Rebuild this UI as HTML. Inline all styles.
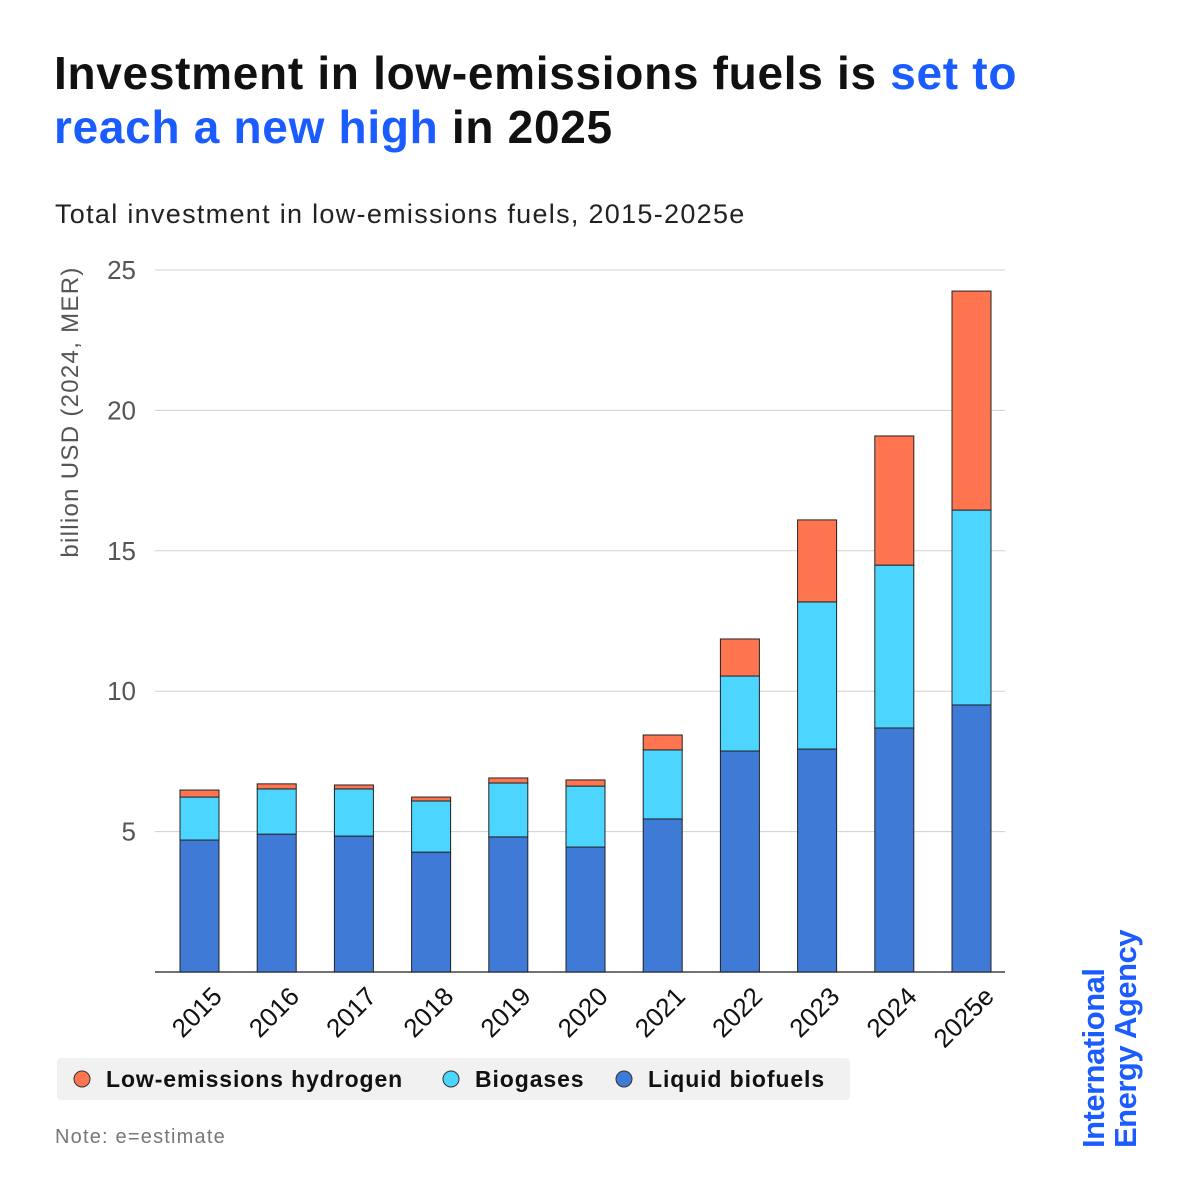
<!DOCTYPE html>
<html><head><meta charset="utf-8">
<style>
html,body{margin:0;padding:0;background:#fff;}
body{width:1200px;height:1200px;position:relative;overflow:hidden;font-family:"Liberation Sans",sans-serif;}
#title{position:absolute;left:54px;top:46px;font-size:46px;font-weight:bold;line-height:54px;color:#111;letter-spacing:0.7px;}
#title span{color:#1a5cff;}
#subtitle{position:absolute;left:55px;top:199px;font-size:27px;color:#222;letter-spacing:1.3px;}
#note{position:absolute;left:55px;top:1126px;font-size:20px;color:#777;letter-spacing:1.2px;}
#logo{position:absolute;left:1078px;top:1148px;transform:rotate(-90deg);transform-origin:0 0;font-size:31px;font-weight:bold;line-height:32px;color:#1a5cff;white-space:nowrap;letter-spacing:-0.5px;}
svg{position:absolute;left:0;top:0;}
</style></head><body>
<div id="title">Investment in low-emissions fuels is <span>set to<br>reach a new high</span> in 2025</div>
<div id="subtitle">Total investment in low-emissions fuels, 2015-2025e</div>
<svg id="chart" width="1200" height="1200"></svg>
<div id="note">Note: e=estimate</div>
<div id="logo">International<br>Energy Agency</div>
<script>
const categories=["2015","2016","2017","2018","2019","2020","2021","2022","2023","2024","2025e"];
const liquidBiofuels=[4.70,4.91,4.84,4.27,4.81,4.45,5.45,7.87,7.94,8.69,9.51];
const biogases=[1.53,1.61,1.68,1.82,1.92,2.17,2.46,2.67,5.24,5.80,6.94];
const hydrogen=[0.25,0.18,0.14,0.14,0.18,0.22,0.53,1.32,2.92,4.60,7.80];
const yTicks=[5,10,15,20,25];
const seriesNames=["Low-emissions hydrogen","Biogases","Liquid biofuels"];
const NS="http://www.w3.org/2000/svg";
const svg=document.getElementById('chart');
const y0=972,pxPer=28.08,x0=199.5,step=77.2,bw=39;
const yS=v=>y0-v*pxPer;
const xS=i=>x0+i*step;
function mk(t,a,p){const e=document.createElementNS(NS,t);for(const k in a)e.setAttribute(k,a[k]);(p||svg).appendChild(e);return e;}
yTicks.forEach(t=>{
 const l=mk('line',{x1:155,x2:1005,y1:yS(t),y2:yS(t),stroke:'#d0d0d0','stroke-width':1});
 
 
 const tx=mk('text',{x:136,y:yS(t)+9,'text-anchor':'end','font-size':26,fill:'#555','font-family':'Liberation Sans, sans-serif'});
 tx.textContent=t;
 
 
});
const ax=mk('line',{x1:155,x2:1005,y1:y0,y2:y0,stroke:'#444','stroke-width':1.5});


const yt=mk('text',{transform:'translate(78,412) rotate(-90)','text-anchor':'middle','font-size':24,'letter-spacing':1.3,fill:'#555','font-family':'Liberation Sans, sans-serif'});
yt.textContent='billion USD (2024, MER)';


categories.forEach((c,i)=>{
 const x=xS(i)-bw/2;
 const segs=[[0,liquidBiofuels[i],'#3f7ad6','liquid'],[liquidBiofuels[i],liquidBiofuels[i]+biogases[i],'#4cd6ff','biogases'],[liquidBiofuels[i]+biogases[i],liquidBiofuels[i]+biogases[i]+hydrogen[i],'#ff7550','hydrogen']];
 segs.forEach(s=>{
  const r=mk('rect',{x:x,y:yS(s[1]),width:bw,height:yS(s[0])-yS(s[1]),fill:s[2],stroke:'#222','stroke-width':1});
  
  
 });
 const t=mk('text',{transform:`translate(${xS(i)+24},${y0+26}) rotate(-45)`,'text-anchor':'end','font-size':26,fill:'#111','font-family':'Liberation Sans, sans-serif'});
 t.textContent=c;
 
 
});
const lg=mk('g',{});


mk('rect',{x:57,y:1058,width:793,height:42,rx:4,fill:'#f1f1f1'},lg);
const lx=[82,451,624],lc=['#ff7550','#4cd6ff','#3f7ad6'];
seriesNames.forEach((n,i)=>{
 const g=mk('g',{},lg);
 
 
 mk('circle',{cx:lx[i],cy:1079,r:8,fill:lc[i],stroke:'#333','stroke-width':1},g);
 const t=mk('text',{x:lx[i]+24,y:1087,'font-size':23,'font-weight':'bold','letter-spacing':0.9,fill:'#111','font-family':'Liberation Sans, sans-serif'},g);
 t.textContent=n;
});
</script>
</body></html>
